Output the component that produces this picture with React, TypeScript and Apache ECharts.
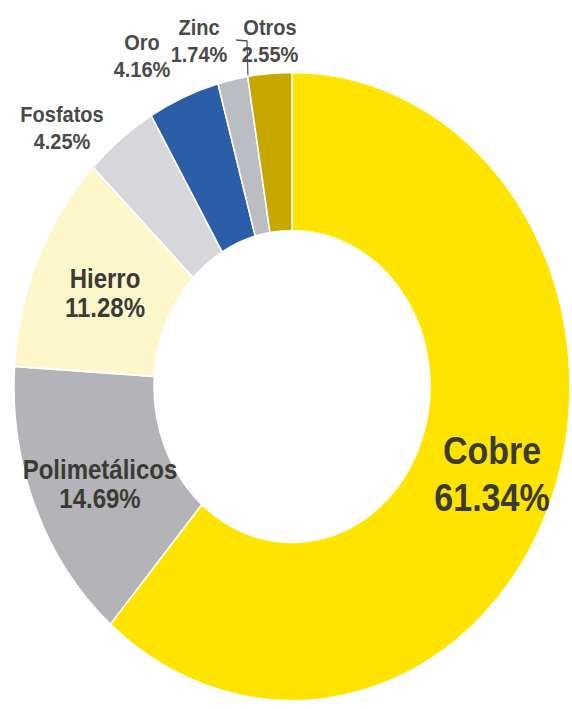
import React, { useEffect, useRef } from "react";
import * as echarts from "echarts";

const categories = ["Cobre", "Polimetálicos", "Hierro", "Fosfatos", "Oro", "Zinc", "Otros"];
const shares = [61.34, 14.69, 11.28, 4.25, 4.16, 1.74, 2.55];
const colors = ["#FFE400", "#B4B4B8", "#FFF7CC", "#D7D7DB", "#2B5EA6", "#BCBDC2", "#C6A800"];

const W = 572;
const H = 709;
const SY = 1.13;
const CH = H / SY;

// label centres in page pixels
const labelPos: number[][] = [
  [492, 474],
  [100, 484],
  [105, 293],
  [62, 128],
  [142, 56],
  [199, 41],
  [270, 41],
];
const labelSize = [34, 24, 24, 20, 20, 20, 20];
const labelLineHeight = [42, 26, 26, 24, 24, 24, 24];

export default function App() {
  const ref = useRef<HTMLDivElement>(null);
  useEffect(() => {
    if (!ref.current) return;
    const chart = echarts.init(ref.current, undefined, { renderer: "svg" });
    const data = categories.map((name, i) => ({
      name,
      value: shares[i],
      itemStyle: { color: colors[i] },
      label: {
        position: i < 3 ? "inside" : "outside",
        fontSize: labelSize[i],
        lineHeight: labelLineHeight[i],
        color: i < 3 ? "#3b3b35" : "#4a4a4a",
      },
      labelLine: { show: i === 6, lineStyle: { color: "#555", width: 1.2 } },
    }));
    chart.setOption({
      animation: false,
      backgroundColor: "#ffffff",
      series: [
        {
          type: "pie",
          center: [292, 342],
          radius: [138, 278],
          startAngle: 90,
          clockwise: true,
          avoidLabelOverlap: false,
          itemStyle: { borderColor: "#ffffff", borderWidth: 1.5 },
          label: {
            show: true,
            fontFamily: "Liberation Sans, Arial, sans-serif",
            fontWeight: "bold",
            formatter: (p: any) => `${p.name}\n${Number(p.value).toFixed(2)}%`,
          },
          labelLayout: (params: any) => {
            const i = params.dataIndex;
            const [x, y] = labelPos[i];
            const res: any = {
              x,
              y: y / SY,
              align: "center",
              verticalAlign: "middle",
            };
            if (i === 6) {
              res.labelLinePoints = [
                [236, 40 / SY],
                [247, 41 / SY],
                [250, 155 / SY],
              ];
            }
            return res;
          },
          data,
        },
      ],
    });
    return () => chart.dispose();
  }, []);
  return (
    <div
      style={{
        position: "absolute",
        left: 0,
        top: 0,
        width: W,
        height: H,
        overflow: "hidden",
        background: "#fff",
      }}
    >
      <div
        ref={ref}
        style={{
          width: W,
          height: CH,
          transform: `scaleY(${SY})`,
          transformOrigin: "top left",
        }}
      />
    </div>
  );
}
